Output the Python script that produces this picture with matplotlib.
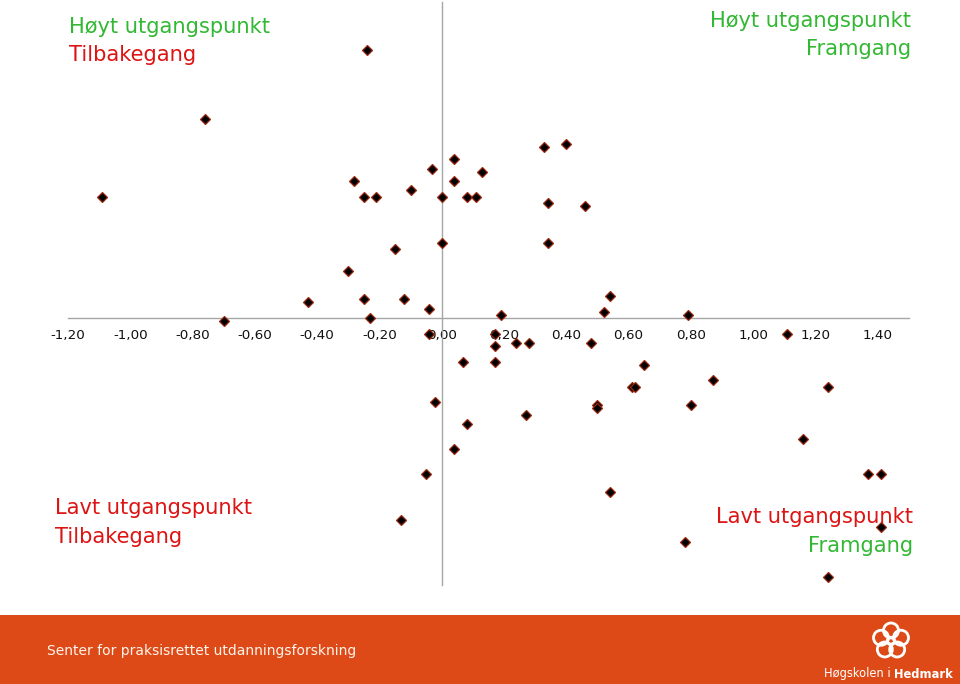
import matplotlib.pyplot as plt
import matplotlib.patches as mpatches
import numpy as np

# x: endring, y: utgangspunkt (les av bildet)
x_vals = [-1.09, -0.76, -0.24, -0.70, -0.43, -0.30, -0.28, -0.25, -0.21, -0.25,
          -0.23, -0.15, -0.12, -0.10, -0.04, -0.03, 0.00, 0.00, 0.04, 0.04,
          0.08, 0.11, 0.13, 0.19, 0.33, 0.40, 0.34, 0.46, 0.34, 0.54,
          0.52, 0.79, 1.11, -0.04, 0.17, 0.17, 0.24, 0.28, 0.48, 0.07,
          0.17, 0.65, 0.61, 0.62, -0.02, 0.50, 0.50, 0.80, 0.27, 0.08,
          0.04, -0.05, 0.54, -0.13, 0.78, 0.87, 1.24, 1.16, 1.37, 1.41,
          1.41, 1.24]
y_vals = [0.39, 0.64, 0.86, -0.01, 0.05, 0.15, 0.44, 0.39, 0.39, 0.06,
          0.00, 0.22, 0.06, 0.41, 0.03, 0.48, 0.39, 0.24, 0.51, 0.44,
          0.39, 0.39, 0.47, 0.01, 0.55, 0.56, 0.37, 0.36, 0.24, 0.07,
          0.02, 0.01, -0.05, -0.05, -0.05, -0.09, -0.08, -0.08, -0.08, -0.14,
          -0.14, -0.15, -0.22, -0.22, -0.27, -0.28, -0.29, -0.28, -0.31, -0.34,
          -0.42, -0.50, -0.56, -0.65, -0.72, -0.20, -0.22, -0.39, -0.50, -0.50,
          -0.67, -0.83]

x_ticks = [-1.2, -1.0, -0.8, -0.6, -0.4, -0.2, 0.0, 0.2, 0.4, 0.6, 0.8, 1.0, 1.2, 1.4]
x_tick_labels = ["-1,20", "-1,00", "-0,80", "-0,60", "-0,40", "-0,20", "0,00",
                 "0,20", "0,40", "0,60", "0,80", "1,00", "1,20", "1,40"]

GREEN = "#33b833"
RED = "#dd1414"
ORANGE = "#dd4a18"

W, H = 960, 684
fig = plt.figure(figsize=(W / 100, H / 100), dpi=100)


def fx(px):
    return px / W


def fy(py):
    return 1 - py / H


ax = fig.add_axes([0, 0, 1, 1])
ax.set_xlim(-1.418, 1.664)
ax.set_ylim(-1.175, 1.021)
ax.patch.set_alpha(0)

for s in ["top", "right"]:
    ax.spines[s].set_visible(False)
ax.spines["bottom"].set_position(("data", 0))
ax.spines["left"].set_position(("data", 0))
ax.spines["bottom"].set_bounds(-1.2, 1.5)
ax.spines["left"].set_bounds(-0.857, 1.015)
for s in ["bottom", "left"]:
    ax.spines[s].set_color("#a6a6a6")
    ax.spines[s].set_linewidth(1.0)

ax.set_xticks(x_ticks)
ax.set_xticklabels(x_tick_labels, fontsize=9.7, color="#111111")
ax.tick_params(axis="x", length=0, pad=8)
ax.set_yticks([])

ax.plot(x_vals, y_vals, linestyle="none", marker="D", markersize=4.6,
        markerfacecolor="black", markeredgecolor="#9a2a10", markeredgewidth=0.9,
        zorder=5, clip_on=False)

# hjørnetekster
fs = 15.1
fig.text(fx(69), fy(33), "Høyt utgangspunkt", color=GREEN, fontsize=fs, va="baseline")
fig.text(fx(69), fy(61), "Tilbakegang", color=RED, fontsize=fs, va="baseline")
fig.text(fx(911), fy(27), "Høyt utgangspunkt", color=GREEN, fontsize=fs, va="baseline", ha="right")
fig.text(fx(911), fy(55), "Framgang", color=GREEN, fontsize=fs, va="baseline", ha="right")
fig.text(fx(55), fy(514), "Lavt utgangspunkt", color=RED, fontsize=fs, va="baseline")
fig.text(fx(55), fy(543), "Tilbakegang", color=RED, fontsize=fs, va="baseline")
fig.text(fx(913), fy(523), "Lavt utgangspunkt", color=RED, fontsize=fs, va="baseline", ha="right")
fig.text(fx(913), fy(552), "Framgang", color=GREEN, fontsize=fs, va="baseline", ha="right")

# bunnfelt
fig.patches.append(mpatches.Rectangle((0, 0), 1, fy(615), transform=fig.transFigure,
                                      facecolor=ORANGE, edgecolor="none", zorder=0))
fig.text(fx(47), fy(651), "Senter for praksisrettet utdanningsforskning",
         color="#fff4ea", fontsize=10, va="center")

# logo
cx, cy = 891, 641
for k in range(5):
    a = np.pi / 2 + k * 2 * np.pi / 5
    px = cx + 10.5 * np.cos(a)
    py = cy - 10.5 * np.sin(a)
    fig.patches.append(mpatches.Ellipse((fx(px), fy(py)), 15 / W, 15 / H,
                                        transform=fig.transFigure, fill=False,
                                        edgecolor="white", linewidth=2.0))
fig.patches.append(mpatches.Ellipse((fx(cx), fy(cy)), 8 / W, 8 / H,
                                    transform=fig.transFigure, fill=False,
                                    edgecolor="white", linewidth=1.6))
fig.text(fx(894), fy(674), "Høgskolen i ", color="white", fontsize=8.3, va="center", ha="right")
fig.text(fx(894), fy(674), "Hedmark", color="white", fontsize=8.3, va="center",
         ha="left", fontweight="bold")

fig.savefig("out.png", dpi=100)
